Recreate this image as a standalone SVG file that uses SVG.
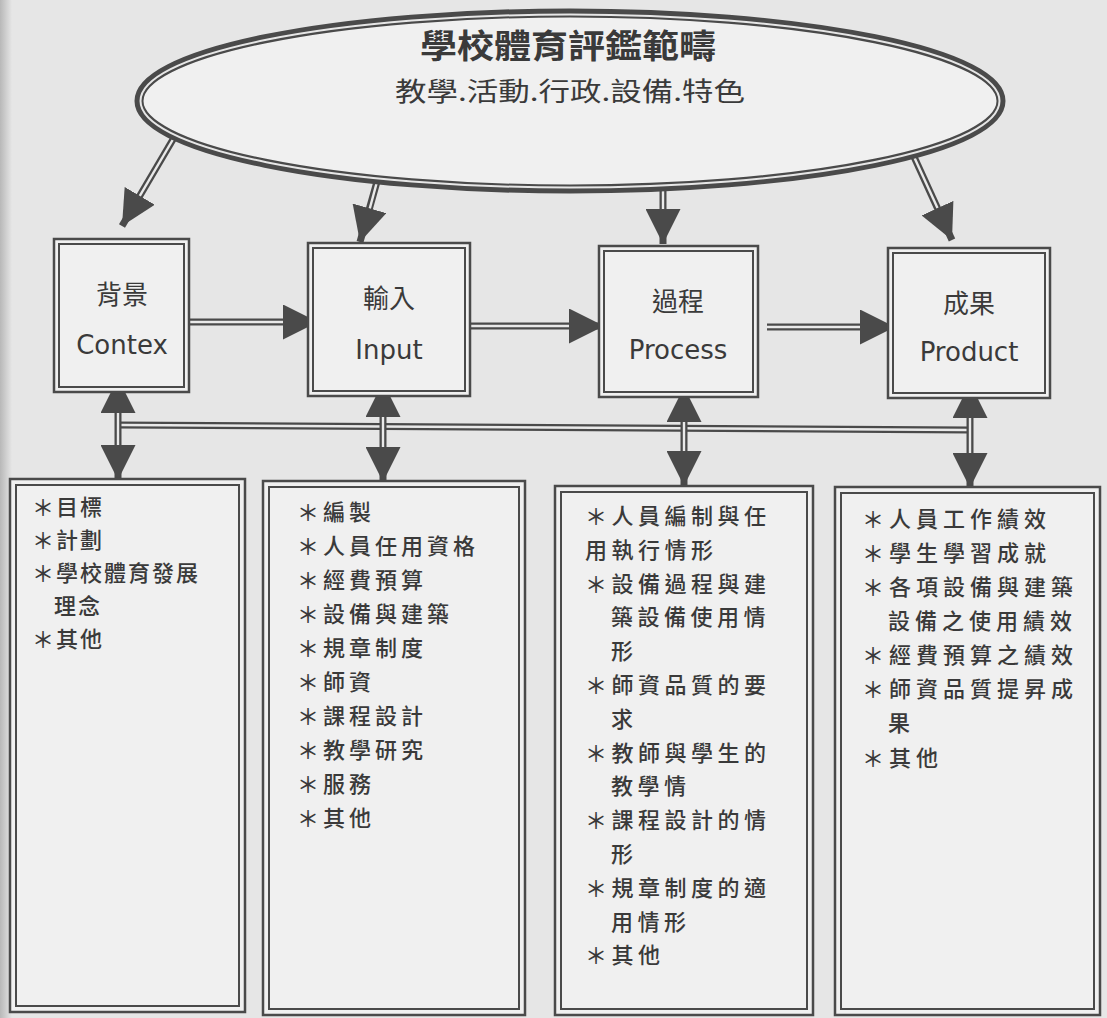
<svg xmlns="http://www.w3.org/2000/svg" width="1107" height="1018" viewBox="0 0 1107 1018">
<style>
.bg{fill:#e6e6e6}
.box{fill:#f0f0f0;stroke:#4a4a4a;stroke-width:2.5}
.inner{fill:none;stroke:#4a4a4a;stroke-width:2}
.sh{stroke:#4a4a4a;stroke-width:7;fill:none}
.gap{stroke:#e9e9e9;stroke-width:2.4;fill:none}
.cjk{font-family:"Noto Sans CJK TC","Noto Sans CJK SC",sans-serif;fill:#3a3a3a}
.lat{font-family:"DejaVu Sans","Liberation Sans",sans-serif;fill:#3a3a3a}
.lbl{font-size:26px;text-anchor:middle}
.item{font-size:22px;font-weight:500}
</style>
<defs>
<marker id="head" viewBox="0 0 35 35" refX="35" refY="17.5" markerWidth="35" markerHeight="35" markerUnits="userSpaceOnUse" orient="auto-start-reverse">
<path d="M0,0 L35,17.5 L0,35 z" fill="#4a4a4a"/>
</marker>
<linearGradient id="edge" x1="0" x2="1" y1="0" y2="0">
<stop offset="0" stop-color="#b8b8b8"/>
<stop offset="1" stop-color="#e6e6e6"/>
</linearGradient>
</defs>
<rect class="bg" x="0" y="0" width="1107" height="1018"/>
<rect x="0" y="0" width="12" height="1018" fill="url(#edge)"/>

<g id="connectors">
<line class="sh" x1="175" y1="136" x2="122" y2="226" marker-end="url(#head)"/>
<line class="gap" x1="175" y1="136" x2="139.8" y2="195.8"/>
<line class="sh" x1="378" y1="178" x2="360" y2="242" marker-end="url(#head)"/>
<line class="gap" x1="378" y1="178" x2="369.8" y2="208.4"/>
<line class="sh" x1="663" y1="184" x2="663" y2="244" marker-end="url(#head)"/>
<line class="gap" x1="663" y1="184" x2="663" y2="209"/>
<line class="sh" x1="910" y1="148" x2="952" y2="240" marker-end="url(#head)"/>
<line class="gap" x1="910" y1="148" x2="937.5" y2="208.1"/>

<line class="sh" x1="189" y1="322" x2="318" y2="322" marker-end="url(#head)"/>
<line class="gap" x1="189" y1="322" x2="283" y2="322"/>
<line class="sh" x1="470" y1="326" x2="604" y2="326" marker-end="url(#head)"/>
<line class="gap" x1="470" y1="326" x2="569" y2="326"/>
<line class="sh" x1="767" y1="327" x2="895" y2="327" marker-end="url(#head)"/>
<line class="gap" x1="767" y1="327" x2="860" y2="327"/>

<line class="sh" x1="118" y1="425" x2="970" y2="430"/>
<line class="gap" x1="121" y1="425" x2="967" y2="430"/>

<line class="sh" x1="118" y1="378" x2="118" y2="480" marker-start="url(#head)" marker-end="url(#head)"/>
<line class="gap" x1="118" y1="413" x2="118" y2="445"/>
<line class="sh" x1="383" y1="382" x2="383" y2="482" marker-start="url(#head)" marker-end="url(#head)"/>
<line class="gap" x1="383" y1="417" x2="383" y2="447"/>
<line class="sh" x1="684" y1="387" x2="684" y2="486" marker-start="url(#head)" marker-end="url(#head)"/>
<line class="gap" x1="684" y1="422" x2="684" y2="451"/>
<line class="sh" x1="970" y1="383" x2="970" y2="488" marker-start="url(#head)" marker-end="url(#head)"/>
<line class="gap" x1="970" y1="418" x2="970" y2="453"/>
</g>

<g id="scope">
<ellipse cx="570" cy="101" rx="431" ry="88" fill="#f0f0f0" stroke="#4a4a4a" stroke-width="9"/>
<ellipse cx="570" cy="101" rx="429.5" ry="86.5" fill="none" stroke="#e6e6e6" stroke-width="2"/>
<text class="cjk" x="568" y="58" font-size="33" font-weight="bold" text-anchor="middle" textLength="296" lengthAdjust="spacingAndGlyphs">學校體育評鑑範疇</text>
<text class="cjk" x="570" y="101" font-size="26" text-anchor="middle" textLength="350" lengthAdjust="spacingAndGlyphs">教學.活動.行政.設備.特色</text>
</g>

<g id="context">
<rect class="box" x="54" y="239" width="135" height="153"/>
<rect class="inner" x="59" y="244" width="125" height="143"/>
<text class="cjk lbl" x="122" y="304">背景</text>
<text class="lat lbl" x="122" y="354">Contex</text>
</g>
<g id="input">
<rect class="box" x="308" y="243" width="162" height="153"/>
<rect class="inner" x="313" y="248" width="152" height="143"/>
<text class="cjk lbl" x="389" y="308">輸入</text>
<text class="lat lbl" x="389" y="359">Input</text>
</g>
<g id="process">
<rect class="box" x="599" y="246" width="159" height="151"/>
<rect class="inner" x="604" y="251" width="149" height="141"/>
<text class="cjk lbl" x="678" y="311">過程</text>
<text class="lat lbl" x="678" y="359">Process</text>
</g>
<g id="product">
<rect class="box" x="888" y="248" width="162" height="150"/>
<rect class="inner" x="893" y="253" width="152" height="140"/>
<text class="cjk lbl" x="969" y="313">成果</text>
<text class="lat lbl" x="969" y="361">Product</text>
</g>

<g id="context-items">
<rect class="box" x="10" y="479" width="235" height="533"/>
<rect class="inner" x="16" y="485" width="223" height="521"/>
<g class="cjk item" letter-spacing="2">
<text x="32" y="515">＊目標</text>
<text x="32" y="548">＊計劃</text>
<text x="32" y="581">＊學校體育發展</text>
<text x="54" y="614">理念</text>
<text x="32" y="647">＊其他</text>
</g>
</g>
<g id="input-items">
<rect class="box" x="263" y="481" width="262" height="534"/>
<rect class="inner" x="269" y="487" width="250" height="522"/>
<g class="cjk item" letter-spacing="4">
<text x="297" y="520">＊編製</text>
<text x="297" y="554">＊人員任用資格</text>
<text x="297" y="588">＊經費預算</text>
<text x="297" y="622">＊設備與建築</text>
<text x="297" y="656">＊規章制度</text>
<text x="297" y="690">＊師資</text>
<text x="297" y="724">＊課程設計</text>
<text x="297" y="758">＊教學研究</text>
<text x="297" y="792">＊服務</text>
<text x="297" y="826">＊其他</text>
</g>
</g>
<g id="process-items">
<rect class="box" x="555" y="486" width="258" height="529"/>
<rect class="inner" x="561" y="492" width="246" height="517"/>
<g class="cjk item" letter-spacing="4.5">
<text x="585" y="524">＊人員編制與任</text>
<text x="585" y="558">用執行情形</text>
<text x="585" y="592">＊設備過程與建</text>
<text x="611" y="625">築設備使用情</text>
<text x="611" y="659">形</text>
<text x="585" y="693">＊師資品質的要</text>
<text x="611" y="727">求</text>
<text x="585" y="761">＊教師與學生的</text>
<text x="611" y="794">教學情</text>
<text x="585" y="828">＊課程設計的情</text>
<text x="611" y="862">形</text>
<text x="585" y="896">＊規章制度的適</text>
<text x="611" y="930">用情形</text>
<text x="585" y="963">＊其他</text>
</g>
</g>
<g id="product-items">
<rect class="box" x="835" y="487" width="265" height="528"/>
<rect class="inner" x="841" y="493" width="253" height="516"/>
<g class="cjk item" letter-spacing="5">
<text x="862" y="527">＊人員工作績效</text>
<text x="862" y="561">＊學生學習成就</text>
<text x="862" y="595">＊各項設備與建築</text>
<text x="888" y="629">設備之使用績效</text>
<text x="862" y="663">＊經費預算之績效</text>
<text x="862" y="697">＊師資品質提昇成</text>
<text x="888" y="731">果</text>
<text x="862" y="766">＊其他</text>
</g>
</g>
</svg>
